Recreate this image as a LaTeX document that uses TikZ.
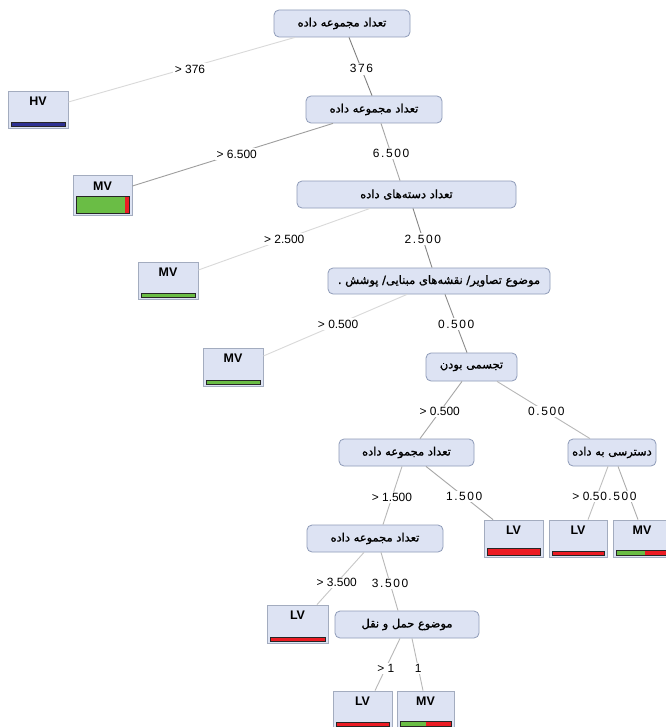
\documentclass[tikz,border=0pt]{standalone}
\usepackage{fontspec}
\setmainfont{Liberation Sans}
\newfontfamily\fa[Script=Arabic,FakeBold=1.2]{DejaVu Sans}
\TeXXeTstate=1
\usetikzlibrary{calc}
\definecolor{nodefill}{HTML}{DDE3F3}
\definecolor{nodeline}{HTML}{8E9BB8}
\definecolor{leafline}{HTML}{A3ACBF}
\definecolor{bargreen}{HTML}{6ABD45}
\definecolor{barred}{HTML}{EC1C24}
\definecolor{barblue}{HTML}{2E3192}
\newcommand\tk{\kern1.6bp}
\newcommand\zw{^^^^200c}
\newcommand\lbar[5]{%
  \coordinate (bl) at ([xshift=3.5bp,yshift=2.5bp]#1.south west);
  \coordinate (tr) at ([xshift=-3.5bp,yshift=#2]#1.south east);
  \coordinate (md) at ($(bl)!#3!(tr)$);
  \fill[#5] (bl) rectangle (tr);
  \fill[#4] (bl) rectangle (md |- tr);
  \draw[barframe] (bl) rectangle (tr);
}
\tikzset{
  inner/.style={draw=nodeline, fill=nodefill, rounded corners=5bp, minimum height=27bp,
    inner sep=0pt, line width=0.8bp, font=\fa\fontsize{11.5}{13}\selectfont},
  leaf/.style={draw=leafline, fill=nodefill, minimum height=37bp, inner sep=0pt, line width=0.8bp},
  leaflab/.style={font=\bfseries\fontsize{12.5}{14}\selectfont, inner sep=0pt, anchor=base},
  lab/.style={fill=white, inner sep=1.5bp, font=\fontsize{12}{14}\selectfont},
  conn/.style={line width=0.9bp},
  barframe/.style={draw=black!85, line width=0.6bp},
}
\begin{document}
\begin{tikzpicture}[x=1bp,y=-1bp]
\useasboundingbox (0,0) rectangle (666,727);
\clip (0,0) rectangle (666,727);
\fill[white] (0,0) rectangle (666,727);
% internal nodes
\node[inner, minimum width=136bp] (n1) at (342,23.5) {\beginR تعداد مجموعه داده\endR};
\node[inner, minimum width=136bp] (n2) at (374,109.5) {\beginR تعداد مجموعه داده\endR};
\node[inner, minimum width=219bp] (n3) at (406.5,194.5) {\beginR تعداد دسته\zw های داده\endR};
\node[inner, minimum width=222bp, minimum height=26bp] (n4) at (439,281) {\beginR موضوع تصاویر/ نقشه\zw های مبنایی/ پوشش .\endR};
\node[inner, minimum width=91bp, minimum height=28bp] (n5) at (471.5,367) {\beginR تجسمی بودن\endR};
\node[inner, minimum width=135bp] (n6) at (406.5,452.5) {\beginR تعداد مجموعه داده\endR};
\node[inner, minimum width=88bp] (n7) at (612,452.5) {\beginR دسترسی به داده\endR};
\node[inner, minimum width=136bp] (n8) at (375,538.5) {\beginR تعداد مجموعه داده\endR};
\node[inner, minimum width=144bp] (n9) at (407,624.5) {\beginR موضوع حمل و نقل\endR};
% leaves
\node[leaf, minimum width=60bp] (hv) at (38,109.5) {};
\node[leaf, minimum width=59bp, minimum height=40bp] (l2) at (102.5,195) {};
\node[leaf, minimum width=60bp] (l3) at (168,280.5) {};
\node[leaf, minimum width=60bp, minimum height=38bp] (l4) at (233,367) {};
\node[leaf, minimum width=59bp] (l5) at (513.5,538.5) {};
\node[leaf, minimum width=58bp] (l6) at (578,538.5) {};
\node[leaf, minimum width=58bp] (l7) at (642,538.5) {};
\node[leaf, minimum width=61bp, minimum height=38bp] (l8) at (297.5,624) {};
\node[leaf, minimum width=59bp] (l9) at (362.5,709.5) {};
\node[leaf, minimum width=57bp] (l10) at (425.5,709.5) {};
% leaf texts
\node[leaflab] (thv) at ([yshift=-15bp]hv.north) {HV};
\node[leaflab] (tl2) at ([yshift=-16bp]l2.north) {MV};
\node[leaflab] (tl3) at ([yshift=-15bp]l3.north) {MV};
\node[leaflab] (tl4) at ([yshift=-15bp]l4.north) {MV};
\node[leaflab] (tl5) at ([yshift=-15bp]l5.north) {LV};
\node[leaflab] (tl6) at ([yshift=-15bp]l6.north) {LV};
\node[leaflab] (tl7) at ([yshift=-15bp]l7.north) {MV};
\node[leaflab] (tl8) at ([yshift=-15bp]l8.north) {LV};
\node[leaflab] (tl9) at ([yshift=-15bp]l9.north) {LV};
\node[leaflab] (tl10) at ([yshift=-15bp]l10.north) {MV};
% bars
\lbar{hv}{6.5bp}{1}{barblue}{barblue}
\lbar{l2}{19.5bp}{0.925}{bargreen}{barred}
\lbar{l3}{6.5bp}{1}{bargreen}{bargreen}
\lbar{l4}{6.5bp}{1}{bargreen}{bargreen}
\lbar{l5}{9.5bp}{1}{barred}{barred}
\lbar{l6}{6.5bp}{1}{barred}{barred}
\lbar{l7}{7bp}{0.55}{bargreen}{barred}
\lbar{l8}{6.5bp}{1}{barred}{barred}
\lbar{l9}{6.5bp}{1}{barred}{barred}
\lbar{l10}{7bp}{0.5}{bargreen}{barred}
% connectors
\draw[conn, draw=black!15] ([xshift=-47bp]n1.south) -- node[lab, pos=0.49, xshift=6bp] {> 376} ([yshift=7.5bp]hv.east);
\draw[conn, draw=black!50] ([xshift=7bp]n1.south) -- node[lab, pos=0.54] {3\tk7\tk6} ([xshift=-2bp]n2.north);
\draw[conn, draw=black!38] ([xshift=-41bp]n2.south) -- node[lab, pos=0.49, xshift=2bp] {> 6.500} ([yshift=9bp]l2.east);
\draw[conn, draw=black!35] ([xshift=7bp]n2.south) -- node[lab, pos=0.53] {6\tk.\tk5\tk0\tk0} ([xshift=-6.5bp]n3.north);
\draw[conn, draw=black!15] ([xshift=-36.5bp]n3.south) -- node[lab, pos=0.5] {> 2.500} ([yshift=10.5bp]l3.east);
\draw[conn, draw=black!48] ([xshift=6.5bp]n3.south) -- node[lab, pos=0.52] {2\tk.\tk5\tk0\tk0} ([xshift=-7bp]n4.north);
\draw[conn, draw=black!15] ([xshift=-32bp]n4.south) -- node[lab, pos=0.48] {> 0.500} ([yshift=11bp]l4.east);
\draw[conn, draw=black!45] ([xshift=6bp]n4.south) -- node[lab, pos=0.51] {0\tk.\tk5\tk0\tk0} ([xshift=-4.5bp]n5.north);
\draw[conn, draw=black!35] ([xshift=-9.5bp]n5.south) -- node[lab, pos=0.53] {> 0.500} ([xshift=13.5bp]n6.north);
\draw[conn, draw=black!28] ([xshift=25.5bp]n5.south) -- node[lab, pos=0.53] {0\tk.\tk5\tk0\tk0} ([xshift=-22bp]n7.north);
\draw[conn, draw=black!28] ([xshift=-4.5bp]n6.south) -- node[lab, pos=0.53] {> 1.500} ([xshift=8bp]n8.north);
\draw[conn, draw=black!35] ([xshift=19.5bp]n6.south) -- node[lab, pos=0.57] {1\tk.\tk5\tk0\tk0} ([xshift=-20.5bp]l5.north);
\draw[conn, draw=black!25] ([xshift=-4bp]n7.south) -- node[lab, pos=0.57, xshift=-4bp] {> 0.500} ([xshift=10bp]l6.north);
\draw[conn, draw=black!32] ([xshift=6bp]n7.south) -- node[lab, pos=0.57, xshift=-11bp] {0\tk.\tk5\tk0\tk0} ([xshift=-4bp]l7.north);
\draw[conn, draw=black!22] ([xshift=-11bp]n8.south) -- node[lab, pos=0.58] {> 3.500} ([xshift=19.5bp]l8.north);
\draw[conn, draw=black!28] ([xshift=6bp]n8.south) -- node[lab, pos=0.53] {3\tk.\tk5\tk0\tk0} ([xshift=-9bp]n9.north);
\draw[conn, draw=black!28] ([xshift=-7bp]n9.south) -- node[lab, pos=0.57] {> 1} ([xshift=12.5bp]l9.north);
\draw[conn, draw=black!28] ([xshift=5bp]n9.south) -- node[lab, pos=0.57] {1} ([xshift=-2.5bp]l10.north);
\end{tikzpicture}
\end{document}
